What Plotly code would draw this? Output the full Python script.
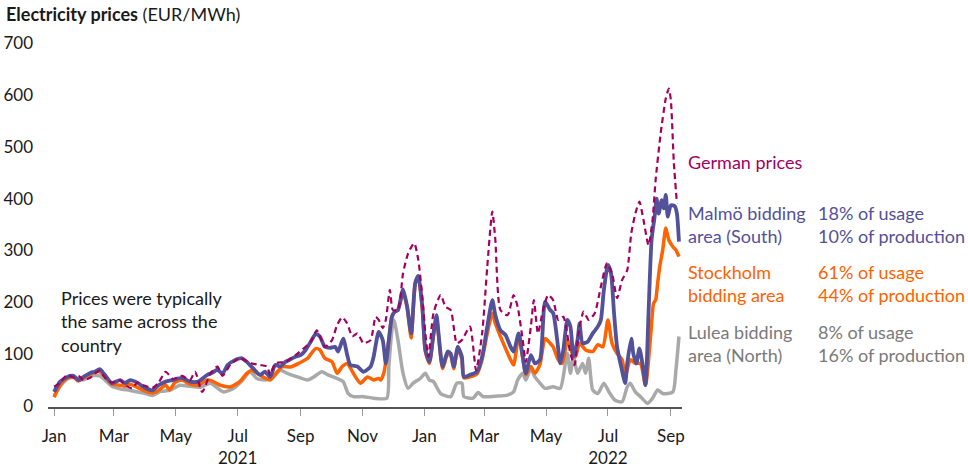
import pandas as pd
import plotly.graph_objects as go

# --- Data (days since 2021-01-01, EUR/MWh) ---
START = pd.Timestamp("2021-01-01")

malmo_days = [0, 6, 13, 19, 24, 29, 36, 40, 45, 50, 57, 65, 70, 75, 82, 88, 97, 103, 110, 117,
              126, 134, 142, 151, 156, 161, 166, 171, 177, 185, 190, 196, 203, 208, 213, 218, 223,
              228, 233, 238, 243, 248, 253, 258, 262, 267, 272, 277, 280, 285, 289, 292, 299, 305,
              312, 315, 320, 324, 327, 330, 333, 336, 339, 344, 348, 352, 356, 359, 363, 366, 370,
              374, 377, 379, 383, 388, 391, 394, 398, 402, 404, 410, 417, 422, 427, 432, 435, 440,
              445, 450, 453, 458, 462, 465, 470, 474, 479, 484, 489, 492, 496, 499, 502, 506, 509,
              512, 516, 518, 521, 526, 531, 536, 539, 542, 546, 549, 552, 555, 559, 563, 565, 569,
              571, 574, 577, 580, 583, 586, 589, 592, 594, 596, 599, 601, 603, 605, 608, 612, 614,
              616]
malmo_vals = [27, 47, 56, 58, 50, 56, 64, 66, 71, 60, 44, 50, 44, 50, 45, 37, 30, 40, 47, 50,
              54, 47, 47, 60, 64, 70, 62, 79, 87, 92, 85, 73, 60, 66, 56, 79, 76,
              85, 90, 95, 98, 108, 124, 139, 134, 114, 112, 114, 105, 130, 98, 79, 76, 66,
              76, 95, 143, 127, 82, 127, 172, 182, 185, 225, 192, 140, 237, 251, 191, 108, 85,
              140, 175, 140, 76, 105, 101, 76, 114, 95, 56, 60, 66, 95, 153, 204, 175, 146,
              137, 114, 105, 140, 95, 63, 98, 82, 89, 201, 185, 179, 127, 82, 108, 166, 153,
              95, 127, 159, 121, 124, 140, 153, 166, 224, 272, 256, 179, 114, 76, 44, 82, 130,
              101, 82, 111, 82, 40, 179, 320, 365, 400, 371, 397, 381, 407, 365, 387, 385, 371,
              317]

stockholm_days = [0, 6, 13, 19, 24, 29, 36, 45, 50, 57, 65, 70, 75, 82, 88, 97, 103, 110, 114, 119,
                  126, 134, 142, 151, 156, 164, 174, 183, 190, 195, 200, 206, 213, 220, 225, 233,
                  241, 250, 255, 258, 262, 267, 274, 279, 284, 289, 295, 302, 309, 315, 320, 322,
                  325, 330, 333, 336, 339, 344, 348, 352, 356, 359, 363, 366, 370, 374, 377, 379,
                  383, 388, 391, 394, 398, 402, 404, 410, 417, 422, 427, 432, 435, 440, 445, 450,
                  453, 458, 462, 465, 470, 474, 479, 484, 489, 492, 497, 501, 506, 511, 514, 518,
                  524, 531, 536, 541, 546, 550, 555, 560, 563, 568, 573, 578, 583, 588, 591, 593,
                  595, 597, 600, 603, 606, 610, 613, 616]
stockholm_vals = [17, 40, 54, 56, 48, 54, 62, 66, 57, 42, 40, 38, 42, 36, 30, 25, 30, 40, 31, 45,
                  50, 42, 40, 50, 48, 40, 37, 47, 63, 69, 63, 56, 50, 66, 76, 75,
                  82, 92, 105, 111, 108, 92, 85, 63, 76, 82, 63, 44, 56, 50, 53, 50,
                  63, 127, 172, 182, 185, 218, 190, 131, 235, 248, 188, 105, 82, 135, 170, 135,
                  72, 100, 97, 72, 110, 90, 54, 56, 62, 90, 140, 179, 159, 134, 111, 89,
                  79, 134, 92, 60, 76, 63, 80, 130, 121, 114, 89, 82, 127, 101, 95, 121,
                  108, 105, 118, 114, 166, 121, 101, 89, 56, 89, 82, 82, 40, 134, 198, 204,
                  237, 268, 301, 343, 320, 307, 301, 288]

lulea_days = [0, 6, 13, 19, 29, 36, 45, 57, 65, 75, 88, 97, 105, 114, 124, 134, 144, 154, 167, 177,
              186, 193, 200, 208, 216, 223, 230, 240, 250, 256, 264, 270, 279, 285, 290, 295, 305,
              315, 328, 330, 333, 335, 339, 344, 349, 354, 361, 366, 370, 374, 381, 391, 397, 402,
              404, 413, 418, 423, 437, 447, 453, 457, 462, 465, 470, 474, 479, 484, 492, 499, 504,
              506, 509, 512, 516, 521, 524, 527, 531, 536, 542, 547, 553, 560, 565, 568, 573, 578,
              585, 590, 595, 600, 610, 613, 616]
lulea_vals = [20, 38, 52, 55, 50, 58, 58, 38, 33, 30, 25, 20, 28, 30, 40, 38, 36, 44, 27, 34,
              50, 66, 53, 50, 56, 69, 63, 56, 50, 56, 66, 60, 53, 47, 24, 18, 18,
              15, 15, 76, 146, 166, 127, 63, 34, 44, 53, 63, 50, 47, 24, 18, 44, 44,
              18, 15, 26, 18, 19, 21, 27, 50, 63, 50, 72, 56, 44, 34, 37, 34, 82,
              101, 63, 95, 63, 82, 63, 92, 31, 24, 44, 27, 11, 8, 37, 44, 27, 18,
              5, 15, 31, 24, 27, 69, 134]

german_days = [0, 6, 13, 19, 24, 29, 36, 40, 45, 50, 57, 65, 70, 77, 82, 88, 97, 103, 110, 117,
               126, 134, 139, 146, 154, 161, 166, 174, 183, 195, 203, 210, 213, 218, 228, 238, 253,
               259, 267, 274, 279, 284, 289, 294, 299, 305, 312, 317, 320, 324, 327, 331, 334, 339,
               344, 349, 355, 359, 363, 366, 369, 374, 381, 386, 391, 397, 402, 410, 416, 422, 427,
               432, 435, 440, 447, 453, 457, 462, 465, 470, 473, 477, 482, 487, 492, 497, 502, 509,
               513, 517, 522, 527, 533, 539, 545, 550, 555, 560, 565, 569, 573, 577, 581, 586, 590,
               593, 598, 603, 606, 608, 611, 614]
german_vals = [37, 45, 60, 55, 58, 50, 55, 62, 68, 55, 45, 50, 40, 34, 45, 40, 35, 45, 66, 52,
               58, 50, 66, 27, 62, 76, 58, 80, 92, 82, 79, 76, 60, 82, 85, 98, 124,
               146, 114, 127, 156, 171, 159, 134, 140, 121, 127, 172, 166, 150, 166, 224, 185, 185,
               256, 294, 314, 282, 211, 140, 95, 179, 214, 191, 185, 121, 127, 153, 69, 140, 268,
               375, 320, 185, 175, 214, 191, 127, 85, 153, 204, 140, 185, 214, 204, 166, 172, 101,
               79, 140, 182, 166, 179, 230, 275, 256, 208, 243, 262, 333, 371, 394, 359, 310, 359,
               436, 526, 593, 612, 590, 468, 391]

month_days = [0, 59, 120, 181, 243, 304, 365, 424, 485, 546, 608]
month_text = ["Jan", "Mar", "May", "Jul<br>2021", "Sep", "Nov",
              "Jan", "Mar", "May", "Jul<br>2022", "Sep"]
y_ticks = [0, 100, 200, 300, 400, 500, 600, 700]

BLUE = "#525199"
ORANGE = "#ff6200"
GREY = "#a9a9a9"
GERMAN = "#a3005f"
FONT = "Lato"


def to_dates(days):
    return START + pd.to_timedelta(days, unit="D")


fig = go.Figure()
series = [
    (lulea_days, lulea_vals, GREY, 3.5, "solid"),
    (stockholm_days, stockholm_vals, ORANGE, 3.5, "solid"),
    (malmo_days, malmo_vals, BLUE, 3.8, "solid"),
    (german_days, german_vals, GERMAN, 2.2, "6px,4px"),
]
for days, vals, col, w, dash in series:
    fig.add_trace(go.Scatter(
        x=to_dates(days), y=vals, mode="lines",
        line=dict(color=col, width=w, dash=dash, shape="spline", smoothing=0.6),
        hoverinfo="skip", showlegend=False,
    ))

# plot area: px 48..682 horizontally, 43..407 vertically
L, R, T, B = 48, 682, 43, 407


def px(x):
    return (x - L) / (R - L)


def py(y):
    return (B - y) / (B - T)


ann = []


def label(text, x, y, color, anchor="left", size=18):
    ann.append(dict(text=text, x=px(x), y=py(y), xref="paper", yref="paper",
                    xanchor=anchor, yanchor="middle", showarrow=False, align="left",
                    font=dict(family=FONT, size=size, color=color)))


label("<b>Electricity prices</b> (EUR/MWh)", 4, 14, "#1a1a1a", size=18)
label("Prices were typically<br>the same across the<br>country", 59, 321, "#1a1a1a")
label("German prices", 686, 162, GERMAN)
label("Malmö bidding<br>area (South)", 686, 224, BLUE)
label("18% of usage<br>10% of production", 816, 224, BLUE)
label("Stockholm<br>bidding area", 686, 283, ORANGE)
label("61% of usage<br>44% of production", 816, 283, ORANGE)
label("Lulea bidding<br>area (North)", 686, 343, "#7a7a7a")
label("8% of usage<br>16% of production", 816, 343, "#7a7a7a")

fig.update_layout(
    width=968, height=471,
    margin=dict(l=L, r=968 - R, t=T, b=471 - B),
    paper_bgcolor="white", plot_bgcolor="white",
    font=dict(family=FONT, size=17, color="#1a1a1a"),
    annotations=ann,
)
fig.update_xaxes(
    range=[to_dates([-6])[0], to_dates([619])[0]],
    tickvals=to_dates(month_days), ticktext=month_text,
    showgrid=False, zeroline=False, automargin=False,
    showline=True, linecolor="#555555", linewidth=1.5,
    ticks="outside", ticklen=7, tickcolor="#9a9a9a", tickwidth=1,
    ticklabelstandoff=6,
)
fig.update_yaxes(
    range=[-2, 700], tickvals=y_ticks,
    showgrid=False, zeroline=False, showline=False, automargin=False,
    ticklabelstandoff=14,
)

# the page body has a default 8px margin; drop it so the figure fills the window
fig.write_html(
    "out.html",
    config={"displayModeBar": False},
    post_script="document.body.style.margin='0';document.body.style.overflow='hidden';",
)
